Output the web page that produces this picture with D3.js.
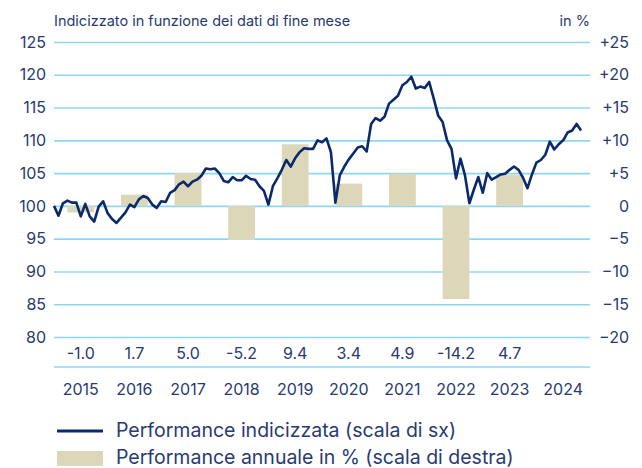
<!DOCTYPE html>
<html>
<head>
<meta charset="utf-8">
<script src="https://cdn.jsdelivr.net/npm/d3@7/dist/d3.min.js"></script>
<style>
  html, body { margin: 0; padding: 0; background: #fff; }
  svg { display: block; font-family: Inter, "Open Sans", sans-serif; }
</style>
</head>
<body>
<svg id="chart" width="642" height="468"></svg>
<script>
// Years shown on the x axis (one band per year)
const years = ['2015', '2016', '2017', '2018', '2019', '2020', '2021', '2022', '2023', '2024'];

// Annual performance in % (right scale); 2024 has no bar
const annual = [-1.0, 1.7, 5.0, -5.2, 9.4, 3.4, 4.9, -14.2, 4.7, null];

// Indexed performance at month end, starting at 100 (left scale)
const indexed = [
  100.0, 98.5, 100.4, 100.8, 100.5, 100.5, 98.4, 100.3, 98.4, 97.6, 99.9, 100.7, 98.9,
  98.0, 97.4, 98.2, 99.0, 100.2, 99.8, 101.0, 101.5, 101.2, 100.2, 99.7, 100.7,
  100.6, 102.0, 102.4, 103.3, 103.7, 103.0, 103.7, 104.0, 104.6, 105.7, 105.6, 105.7,
  105.0, 103.8, 103.6, 104.4, 103.9, 103.9, 104.6, 104.1, 104.0, 103.0, 102.3, 100.2,
  103.0, 104.2, 105.5, 107.0, 106.0, 107.3, 108.2, 108.8, 108.7, 108.7, 110.0, 109.7,
  110.3, 108.2, 100.5, 104.7, 106.0, 107.1, 108.0, 108.9, 109.1, 108.3, 112.5, 113.4,
  113.0, 113.6, 115.6, 116.2, 116.8, 118.4, 118.9, 119.7, 117.9, 118.2, 118.0, 118.9,
  116.4, 113.8, 112.8, 110.0, 108.7, 104.2, 107.2, 104.7, 100.4, 102.5, 104.4, 102.0,
  105.0, 104.0, 104.4, 104.8, 104.9, 105.5, 106.0, 105.5, 104.3, 102.7, 104.8, 106.6,
  107.0, 107.8, 109.8, 108.6, 109.4, 110.0, 111.2, 111.5, 112.5, 111.5
];

// Tick values for the two vertical scales
const leftTicks = [80, 85, 90, 95, 100, 105, 110, 115, 120, 125];
const rightTicks = [-20, -15, -10, -5, 0, 5, 10, 15, 20, 25];

const legendItems = [
  { type: 'line', label: 'Performance indicizzata (scala di sx)' },
  { type: 'bar', label: 'Performance annuale in % (scala di destra)' }
];

const colors = {
  line: '#0b2a6b',
  bar: '#ddd7b9',
  grid: '#8fd6f3',
  text: '#283a72'
};

const plot = { left: 54, right: 590, top: 42, bottom: 337 };

const svg = d3.select('#chart');

// Scales
const yLeft = d3.scaleLinear().domain([80, 125]).range([plot.bottom, plot.top]);
const yRight = d3.scaleLinear().domain([-20, 25]).range([plot.bottom, plot.top]);
const xBand = d3.scaleBand()
  .domain(years)
  .range([plot.left, plot.right])
  .paddingInner(0.5)
  .paddingOuter(0.25);
const xMonth = d3.scaleLinear()
  .domain([0, years.length * 12])
  .range([plot.left, plot.right]);

// Gridlines (left axis without domain, ticks stretched across the plot)
const gridAxis = svg.append('g')
  .attr('transform', `translate(${plot.left},0)`)
  .call(d3.axisLeft(yLeft).tickValues(leftTicks).tickSize(-(plot.right - plot.left)).tickFormat(''));
gridAxis.select('.domain').remove();
gridAxis.selectAll('.tick line').attr('stroke', colors.grid).attr('stroke-width', 1.6);

// Left tick labels
const leftAxis = svg.append('g')
  .attr('transform', `translate(${plot.left - 8},0)`)
  .call(d3.axisLeft(yLeft).tickValues(leftTicks).tickSize(0).tickPadding(0));
leftAxis.select('.domain').remove();
leftAxis.selectAll('text')
  .attr('fill', colors.text)
  .style('font-size', '16px')
  .style('font-family', 'Inter, sans-serif');

// Right tick labels (right-aligned)
const fmtRight = v => v > 0 ? `+${v}` : v < 0 ? `\u2212${Math.abs(v)}` : '0';
const rightAxis = svg.append('g')
  .attr('transform', `translate(629,0)`)
  .call(d3.axisLeft(yRight).tickValues(rightTicks).tickSize(0).tickPadding(0).tickFormat(fmtRight));
rightAxis.select('.domain').remove();
rightAxis.selectAll('text')
  .attr('fill', colors.text)
  .style('font-size', '16px')
  .style('font-family', 'Inter, sans-serif');

// Annual bars
svg.append('g')
  .selectAll('rect')
  .data(years.map((y, i) => ({ year: y, value: annual[i] })).filter(d => d.value !== null))
  .join('rect')
  .attr('x', d => xBand(d.year))
  .attr('width', xBand.bandwidth())
  .attr('y', d => yRight(Math.max(0, d.value)))
  .attr('height', d => Math.abs(yRight(d.value) - yRight(0)))
  .attr('fill', colors.bar);

// Indexed line
const line = d3.line()
  .x((d, i) => xMonth(i))
  .y(d => yLeft(d))
  .curve(d3.curveLinear);

svg.append('path')
  .datum(indexed)
  .attr('d', line)
  .attr('fill', 'none')
  .attr('stroke', colors.line)
  .attr('stroke-width', 2.6)
  .attr('stroke-linejoin', 'round');

// Value labels row under the plot
svg.append('g')
  .selectAll('text')
  .data(years.map((y, i) => ({ year: y, value: annual[i] })).filter(d => d.value !== null))
  .join('text')
  .attr('x', d => xBand(d.year) + xBand.bandwidth() / 2)
  .attr('y', 359)
  .attr('text-anchor', 'middle')
  .attr('fill', colors.text)
  .style('font-size', '16px')
  .text(d => d.value.toFixed(1));

// Separator line
svg.append('line')
  .attr('x1', plot.left)
  .attr('x2', plot.right)
  .attr('y1', 367)
  .attr('y2', 367)
  .attr('stroke', colors.grid)
  .attr('stroke-width', 1.4);

// Year labels
const xAxis = svg.append('g')
  .attr('transform', 'translate(0,378)')
  .call(d3.axisBottom(xBand).tickSize(0).tickPadding(0));
xAxis.select('.domain').remove();
xAxis.selectAll('text')
  .attr('fill', colors.text)
  .attr('dy', '1.05em')
  .style('font-size', '16px')
  .style('font-family', 'Inter, sans-serif');

// Header texts
svg.append('text')
  .attr('x', plot.left)
  .attr('y', 26)
  .attr('fill', colors.text)
  .style('font-size', '14.5px')
  .text('Indicizzato in funzione dei dati di fine mese');

svg.append('text')
  .attr('x', plot.right)
  .attr('y', 26)
  .attr('text-anchor', 'end')
  .attr('fill', colors.text)
  .style('font-size', '14.5px')
  .text('in %');

// Legend
const legend = svg.append('g').attr('transform', 'translate(57,0)');
legendItems.forEach((item, i) => {
  const cy = 431 + i * 27;
  if (item.type === 'line') {
    legend.append('line')
      .attr('x1', 0).attr('x2', 46)
      .attr('y1', cy).attr('y2', cy)
      .attr('stroke', colors.line)
      .attr('stroke-width', 3);
  } else {
    legend.append('rect')
      .attr('x', 0).attr('y', cy - 7)
      .attr('width', 46).attr('height', 15)
      .attr('fill', colors.bar);
  }
  legend.append('text')
    .attr('x', 59)
    .attr('y', cy + 5.5)
    .attr('fill', colors.text)
    .style('font-size', '19.5px')
    .text(item.label);
});
</script>
</body>
</html>
